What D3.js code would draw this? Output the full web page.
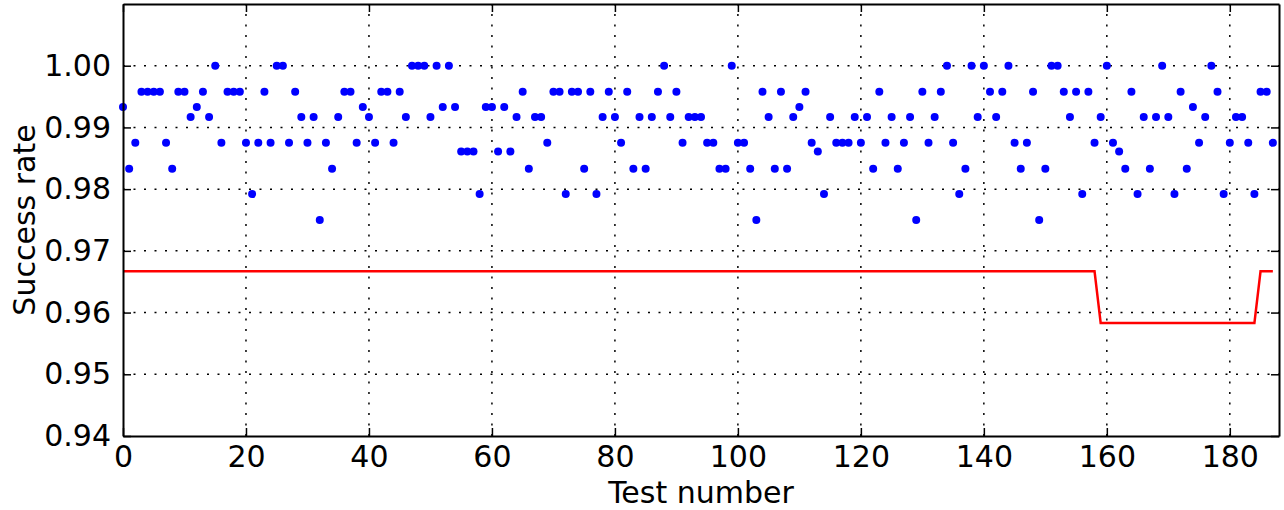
<!DOCTYPE html>
<html>
<head>
<meta charset="utf-8">
<script src="https://cdn.jsdelivr.net/npm/d3@7"></script>
<style>
  body { margin: 0; background: #fff; }
  svg text { font-family: "DejaVu Sans", sans-serif; fill: #000; }
</style>
</head>
<body>
<div id="chart"></div>
<script>
// --------------- Data ---------------

// success rate of each test, test number = index
const SUCCESS = [
  0.9933, 0.9833, 0.9875, 0.9958, 0.9958, 0.9958, 0.9958, 0.9875, 0.9833, 0.9958,
  0.9958, 0.9917, 0.9933, 0.9958, 0.9917, 1.0000, 0.9875, 0.9958, 0.9958, 0.9958,
  0.9875, 0.9792, 0.9875, 0.9958, 0.9875, 1.0000, 1.0000, 0.9875, 0.9958, 0.9917,
  0.9875, 0.9917, 0.9750, 0.9875, 0.9833, 0.9917, 0.9958, 0.9958, 0.9875, 0.9933,
  0.9917, 0.9875, 0.9958, 0.9958, 0.9875, 0.9958, 0.9917, 1.0000, 1.0000, 1.0000,
  0.9917, 1.0000, 0.9933, 1.0000, 0.9933, 0.9861, 0.9861, 0.9861, 0.9792, 0.9933,
  0.9933, 0.9861, 0.9933, 0.9861, 0.9917, 0.9958, 0.9833, 0.9917, 0.9917, 0.9875,
  0.9958, 0.9958, 0.9792, 0.9958, 0.9958, 0.9833, 0.9958, 0.9792, 0.9917, 0.9958,
  0.9917, 0.9875, 0.9958, 0.9833, 0.9917, 0.9833, 0.9917, 0.9958, 1.0000, 0.9917,
  0.9958, 0.9875, 0.9917, 0.9917, 0.9917, 0.9875, 0.9875, 0.9833, 0.9833, 1.0000,
  0.9875, 0.9875, 0.9833, 0.9750, 0.9958, 0.9917, 0.9833, 0.9958, 0.9833, 0.9917,
  0.9933, 0.9958, 0.9875, 0.9861, 0.9792, 0.9917, 0.9875, 0.9875, 0.9875, 0.9917,
  0.9875, 0.9917, 0.9833, 0.9958, 0.9875, 0.9917, 0.9833, 0.9875, 0.9917, 0.9750,
  0.9958, 0.9875, 0.9917, 0.9958, 1.0000, 0.9875, 0.9792, 0.9833, 1.0000, 0.9917,
  1.0000, 0.9958, 0.9917, 0.9958, 1.0000, 0.9875, 0.9833, 0.9875, 0.9958, 0.9750,
  0.9833, 1.0000, 1.0000, 0.9958, 0.9917, 0.9958, 0.9792, 0.9958, 0.9875, 0.9917,
  1.0000, 0.9875, 0.9861, 0.9833, 0.9958, 0.9792, 0.9917, 0.9833, 0.9917, 1.0000,
  0.9917, 0.9792, 0.9958, 0.9833, 0.9933, 0.9875, 0.9917, 1.0000, 0.9958, 0.9792,
  0.9875, 0.9917, 0.9917, 0.9875, 0.9792, 0.9958, 0.9958, 0.9875
];

// red threshold line vertices
const LIMIT_X = [0, 158, 159, 184, 185, 187];
const LIMIT_Y = [0.9667, 0.9667, 0.9583, 0.9583, 0.9667, 0.9667];

const X_TICKS = [0, 20, 40, 60, 80, 100, 120, 140, 160, 180];
const Y_TICKS = [0.94, 0.95, 0.96, 0.97, 0.98, 0.99, 1.00];

// --------------- Constants ---------------

const WIDTH = 1284;
const HEIGHT = 510;
const MARGINS = { top: 4, right: 5, bottom: 74, left: 123 };
const TICK_LEN = 8;
const FONT = "30px";

// --------------- Prep SVG ---------------

const svg = d3
  .select("#chart")
  .append("svg")
  .attr("width", WIDTH)
  .attr("height", HEIGHT);

const x = d3
  .scaleLinear()
  .domain([0, 188])
  .range([MARGINS.left, WIDTH - MARGINS.right]);

const y = d3
  .scaleLinear()
  .domain([0.94, 1.01])
  .range([HEIGHT - MARGINS.bottom, MARGINS.top]);

// dotted grid
const grid = svg
  .append("g")
  .attr("stroke", "#000")
  .attr("stroke-width", 1.5)
  .attr("stroke-dasharray", "2,8.5");

grid
  .selectAll("line.gx")
  .data(X_TICKS.filter((d) => d > 0))
  .join("line")
  .attr("x1", (d) => x(d))
  .attr("x2", (d) => x(d))
  .attr("y1", y(0.94))
  .attr("y2", y(1.01));

grid
  .selectAll("line.gy")
  .data(Y_TICKS.filter((d) => d > 0.94))
  .join("line")
  .attr("class", "gy")
  .attr("x1", x(0))
  .attr("x2", x(188))
  .attr("y1", (d) => y(d))
  .attr("y2", (d) => y(d));

// threshold line
const line = d3
  .line()
  .x((d) => x(d[0]))
  .y((d) => y(d[1]));

svg
  .append("path")
  .datum(LIMIT_X.map((d, i) => [d, LIMIT_Y[i]]))
  .attr("d", line)
  .attr("fill", "none")
  .attr("stroke", "#ff0000")
  .attr("stroke-width", 2.5);

// success points
svg
  .append("g")
  .selectAll("circle")
  .data(SUCCESS)
  .join("circle")
  .attr("cx", (d, i) => x(i))
  .attr("cy", (d) => y(d))
  .attr("r", 4)
  .attr("fill", "#0000ff");

// --------------- Axes ---------------

const styleAxis = (g) => {
  g.select(".domain").attr("stroke", "#000").attr("stroke-width", 2);
  g.selectAll(".tick line").attr("stroke", "#000").attr("stroke-width", 1.5);
  g.selectAll(".tick text").attr("font-size", FONT).attr("fill", "#000");
};

svg
  .append("g")
  .attr("transform", `translate(0,${y(0.94)})`)
  .call(
    d3.axisBottom(x).tickValues(X_TICKS).tickSizeInner(-TICK_LEN)
      .tickSizeOuter(0).tickPadding(10).tickFormat(d3.format("d"))
  )
  .call(styleAxis);

svg
  .append("g")
  .attr("transform", `translate(0,${y(1.01)})`)
  .call(
    d3.axisTop(x).tickValues(X_TICKS).tickSizeInner(-TICK_LEN)
      .tickSizeOuter(0).tickFormat("")
  )
  .call(styleAxis);

svg
  .append("g")
  .attr("transform", `translate(${x(0)},0)`)
  .call(
    d3.axisLeft(y).tickValues(Y_TICKS).tickSizeInner(-TICK_LEN)
      .tickSizeOuter(0).tickPadding(12).tickFormat(d3.format(".2f"))
  )
  .call(styleAxis);

svg
  .append("g")
  .attr("transform", `translate(${x(188)},0)`)
  .call(
    d3.axisRight(y).tickValues(Y_TICKS).tickSizeInner(-TICK_LEN)
      .tickSizeOuter(0).tickFormat("")
  )
  .call(styleAxis);

// axis labels
svg
  .append("text")
  .attr("x", (x(0) + x(188)) / 2)
  .attr("y", 503)
  .attr("text-anchor", "middle")
  .attr("font-size", FONT)
  .text("Test number");

svg
  .append("text")
  .attr("transform", `translate(35,${(y(0.94) + y(1.01)) / 2}) rotate(-90)`)
  .attr("text-anchor", "middle")
  .attr("font-size", FONT)
  .text("Success rate");
</script>
</body>
</html>
